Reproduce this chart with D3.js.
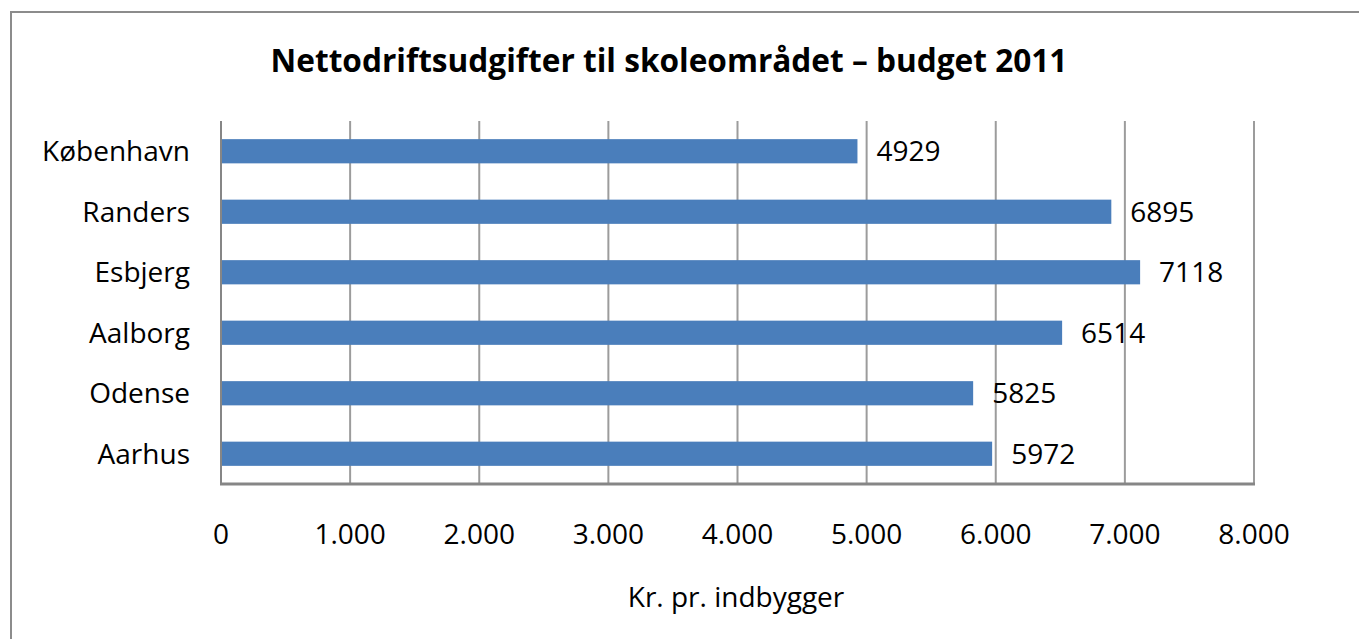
<!DOCTYPE html>
<html>
<head>
<meta charset="utf-8">
<script src="https://cdn.jsdelivr.net/npm/d3@7"></script>
<style>
  body { margin: 0; background: #fff; }
  text { font-family: "Open Sans", sans-serif; fill: #000; }
</style>
</head>
<body>
<svg id="chart" width="1359" height="639"></svg>
<script>
// Data
const cities = ['København', 'Randers', 'Esbjerg', 'Aalborg', 'Odense', 'Aarhus'];
const values = [4929, 6895, 7118, 6514, 5825, 5972];
const xTicks = [0, 1000, 2000, 3000, 4000, 5000, 6000, 7000, 8000];
const chartTitle = 'Nettodriftsudgifter til skoleområdet – budget 2011';
const axisTitle = 'Kr. pr. indbygger';

const svg = d3.select('#chart');

// Outer chart border (only top and left visible in the crop)
svg.append('path')
    .attr('d', 'M11,640 L11,12 L1360,12')
    .attr('fill', 'none')
    .attr('stroke', '#8c8c8c')
    .attr('stroke-width', 2);

// Plot area
const plot = { left: 221, right: 1254, top: 121, bottom: 484 };

const x = d3.scaleLinear()
    .domain([0, 8000])
    .range([plot.left, plot.right]);

const y = d3.scaleBand()
    .domain(cities)
    .range([plot.top, plot.bottom])
    .paddingInner(0.6)
    .paddingOuter(0.3);

// Gridlines
svg.append('g')
    .selectAll('line')
    .data(xTicks.slice(1))
    .enter()
    .append('line')
    .attr('x1', d => x(d))
    .attr('x2', d => x(d))
    .attr('y1', plot.top)
    .attr('y2', plot.bottom)
    .attr('stroke', '#9c9c9c')
    .attr('stroke-width', 2);

// Bars
svg.append('g')
    .selectAll('rect')
    .data(cities)
    .enter()
    .append('rect')
    .attr('x', x(0))
    .attr('y', d => y(d))
    .attr('width', (d, i) => x(values[i]) - x(0))
    .attr('height', y.bandwidth())
    .attr('fill', '#4a7ebb');

// Axis lines
svg.append('line')
    .attr('x1', plot.left).attr('x2', plot.left)
    .attr('y1', plot.top).attr('y2', plot.bottom + 1)
    .attr('stroke', '#868686').attr('stroke-width', 2);
svg.append('line')
    .attr('x1', plot.left - 1).attr('x2', plot.right + 1)
    .attr('y1', plot.bottom).attr('y2', plot.bottom)
    .attr('stroke', '#868686').attr('stroke-width', 3);

// Value labels
svg.append('g')
    .selectAll('text')
    .data(cities)
    .enter()
    .append('text')
    .attr('x', (d, i) => x(values[i]) + 19)
    .attr('y', d => y(d) + y.bandwidth() / 2)
    .attr('dy', '0.36em')
    .style('font-size', '28px')
    .text((d, i) => values[i]);

// Category labels
svg.append('g')
    .selectAll('text')
    .data(cities)
    .enter()
    .append('text')
    .attr('x', 190)
    .attr('y', d => y(d) + y.bandwidth() / 2)
    .attr('dy', '0.36em')
    .attr('text-anchor', 'end')
    .style('font-size', '28px')
    .text(d => d);

// X tick labels
const fmt = d3.formatLocale({ decimal: ',', thousands: '.', grouping: [3], currency: ['', ''] }).format(',');
svg.append('g')
    .selectAll('text')
    .data(xTicks)
    .enter()
    .append('text')
    .attr('x', d => x(d))
    .attr('y', 544)
    .attr('text-anchor', 'middle')
    .style('font-size', '28px')
    .text(d => fmt(d));

// Axis title
svg.append('text')
    .attr('x', 736)
    .attr('y', 607)
    .attr('text-anchor', 'middle')
    .style('font-size', '28px')
    .text(axisTitle);

// Chart title
svg.append('text')
    .attr('x', 669)
    .attr('y', 72)
    .attr('text-anchor', 'middle')
    .style('font-size', '31.6px')
    .style('font-weight', 'bold')
    .text(chartTitle);
</script>
</body>
</html>
